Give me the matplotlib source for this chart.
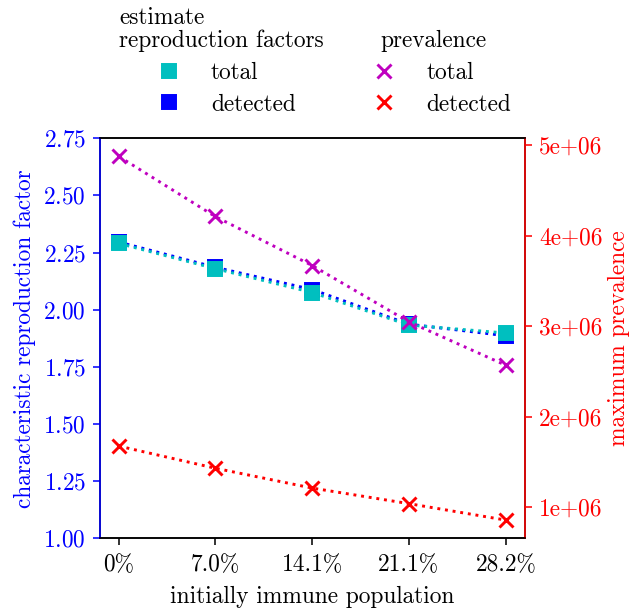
import numpy as np
import matplotlib
matplotlib.use('Agg')
import matplotlib.pyplot as plt
from matplotlib.lines import Line2D
from matplotlib.ticker import FuncFormatter

plt.rcParams['font.family'] = 'serif'
plt.rcParams['font.serif'] = ['cmr10']
plt.rcParams['mathtext.fontset'] = 'cm'
plt.rcParams['axes.formatter.use_mathtext'] = True
plt.rcParams['font.size'] = 12

# share of the population that is immune at the start (percent)
immune = [0.0, 7.0, 14.1, 21.1, 28.2]
immune_labels = ['0%', '7.0%', '14.1%', '21.1%', '28.2%']

# estimated characteristic reproduction factors
rf_total = [2.290, 2.180, 2.075, 1.933, 1.898]
rf_detected = [2.296, 2.186, 2.088, 1.937, 1.886]

# maximum prevalence
prev_total = [4.878e6, 4.215e6, 3.670e6, 3.050e6, 2.567e6]
prev_detected = [1.674e6, 1.430e6, 1.209e6, 1.038e6, 0.855e6]

fig = plt.figure(figsize=(4.5, 610 / 140), dpi=140)
ax = fig.add_axes([0.158, 0.1175, 0.676, 0.6558])

ax.plot(immune, rf_detected, 'bs:', ms=7.5)
ax.plot(immune, rf_total, 'cs:', ms=7.5)
ax.set_ylim(1.0, 2.75)
ax.set_xticks(immune)
ax.set_xticklabels(immune_labels)
ax.set_xlabel('initially immune population', labelpad=5)
ax.set_ylabel('characteristic reproduction factor', color='b')
ax.tick_params(axis='y', colors='b')
ax.tick_params(axis='x', pad=4.5)

ax2 = ax.twinx()
ax2.plot(immune, prev_total, 'mx:', ms=7, mew=1.5)
ax2.plot(immune, prev_detected, 'rx:', ms=7, mew=1.5)
ax2.yaxis.set_major_formatter(FuncFormatter(lambda v, p: '{:g}'.format(v)))
ax2.set_ylabel('maximum prevalence', color='r', labelpad=3)
ax2.tick_params(axis='y', colors='r')
ax2.spines['left'].set_color('b')
ax2.spines['right'].set_color('r')

handles = [
    Line2D([], [], color='c', marker='s', ls='none', ms=7.5),
    Line2D([], [], color='b', marker='s', ls='none', ms=7.5),
    Line2D([], [], color='m', marker='x', ls='none', ms=7, mew=1.5),
    Line2D([], [], color='r', marker='x', ls='none', ms=7, mew=1.5),
]
labels = ['total', 'detected', 'total', 'detected']
fig.legend(handles, labels, ncol=2, frameon=False, loc='upper left',
           bbox_to_anchor=(145.7 / 630, 1 - 62 / 610),
           borderpad=0, borderaxespad=0, handlelength=2.0,
           handletextpad=0.8, columnspacing=2.8, labelspacing=0.4)

fig.text(119 / 630, 1 - 47 / 610, 'estimate\nreproduction factors',
         ha='left', va='baseline', linespacing=1.0)
fig.text(380 / 630, 1 - 47 / 610, 'prevalence', ha='left', va='baseline')

fig.savefig('out.png', dpi=140)
